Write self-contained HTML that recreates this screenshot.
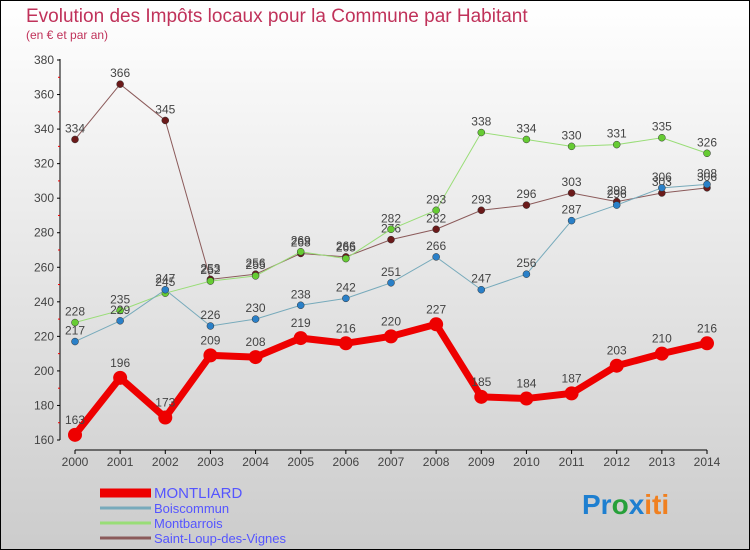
<!DOCTYPE html>
<html><head><meta charset="utf-8"><style>
body{margin:0;width:750px;height:550px;overflow:hidden;font-family:"Liberation Sans",sans-serif}
svg{display:block}
</style></head><body>
<svg width="750" height="550" xmlns="http://www.w3.org/2000/svg">
<defs><linearGradient id="bg" x1="0" y1="0" x2="0" y2="1"><stop offset="0" stop-color="#ffffff"/><stop offset="1" stop-color="#cccccc"/></linearGradient></defs>
<rect x="0.5" y="0.5" width="749" height="549" fill="url(#bg)" stroke="#000"/>
<text x="26" y="22" font-size="19" fill="#c0325a">Evolution des Impôts locaux pour la Commune par Habitant</text>
<text x="26" y="39" font-size="12" fill="#c0325a">(en € et par an)</text>
<g id="axes"></g>
<g id="series"></g>
<g id="legend"></g>
<text x="582" y="514" font-size="28" font-weight="bold"><tspan fill="#1e7fd0">Pr</tspan><tspan fill="#27a03a">o</tspan><tspan fill="#1e7fd0">x</tspan><tspan fill="#f08020">iti</tspan></text>
</svg>
<script>
const years=[2000,2001,2002,2003,2004,2005,2006,2007,2008,2009,2010,2011,2012,2013,2014];
const yTicks=[160,180,200,220,240,260,280,300,320,340,360,380];
const montliard=[163,196,173,209,208,219,216,220,227,185,184,187,203,210,216];
const boiscommun=[217,229,247,226,230,238,242,251,266,247,256,287,296,306,308];
const montbarrois=[228,235,245,252,255,269,265,282,293,338,334,330,331,335,326];
const saintLoup=[334,366,345,253,256,268,266,276,282,293,296,303,298,303,306];
const NS="http://www.w3.org/2000/svg";
const x=i=>75+i*(707-75)/(years.length-1);
const y=v=>440-(v-160)*(380/220);
function mk(tag,attrs,parent){const e=document.createElementNS(NS,tag);for(const k in attrs)e.setAttribute(k,attrs[k]);parent.appendChild(e);return e;}
const axes=document.getElementById('axes');
let e=mk('line',{x1:60,y1:59,x2:60,y2:440,stroke:'#000'},axes);


e=mk('line',{x1:75,y1:450,x2:707,y2:450,stroke:'#000'},axes);


yTicks.forEach(v=>{
 mk('line',{x1:57,y1:y(v),x2:60,y2:y(v),stroke:'#000'},axes);
 if(v<380)mk('line',{x1:58,y1:y(v+10),x2:60,y2:y(v+10),stroke:'#e00'},axes);
 const t=mk('text',{x:54,y:y(v)+4,'font-size':12,fill:'#444','text-anchor':'end'},axes);t.textContent=v;
 
 
});
years.forEach((yr,i)=>{
 mk('line',{x1:x(i),y1:450,x2:x(i),y2:454,stroke:'#000'},axes);
 const t=mk('text',{x:x(i),y:466,'font-size':12,fill:'#444','text-anchor':'middle'},axes);t.textContent=yr;
 
 
});
const sg=document.getElementById('series');
const defs=[[saintLoup,'#6b1a1a','#8b5a5a',1,'saint-loup'],[montbarrois,'#6c3','#9d7',1,'montbarrois'],[boiscommun,'#2a80c8','#7ab',1,'boiscommun'],[montliard,'#e00','#e00',7,'montliard']];
defs.forEach(([d,dot,ln,w,name])=>{
 const p=mk('polyline',{points:d.map((v,i)=>x(i)+','+y(v)).join(' '),fill:'none',stroke:ln,'stroke-width':w},sg);
 
 
 d.forEach((v,i)=>{
  const c=mk('circle',{cx:x(i),cy:y(v),r:w>1?7:3.5,fill:dot,stroke:w>1?'none':'#333','stroke-width':0.5},sg);
  
  
  const t=mk('text',{x:x(i),y:y(v)-(w>1?11:7),'font-size':12,fill:'#444','text-anchor':'middle'},sg);t.textContent=v;
  
  
 });
});
const lg=document.getElementById('legend');
const leg=[['MONTLIARD','#e00',9,498,15],['Boiscommun','#7ab',3,513,13],['Montbarrois','#9d7',3,528,13],['Saint-Loup-des-Vignes','#8b5a5a',3,543,13]];
leg.forEach(([n,c,w,yy,fs])=>{
 const l=mk('line',{x1:100,y1:yy-5,x2:151,y2:yy-5,stroke:c,'stroke-width':w},lg);
 
 
 const t=mk('text',{x:154,y:yy,'font-size':fs,fill:'#55f'},lg);t.textContent=n;
 
 
});
</script>
</body></html>
